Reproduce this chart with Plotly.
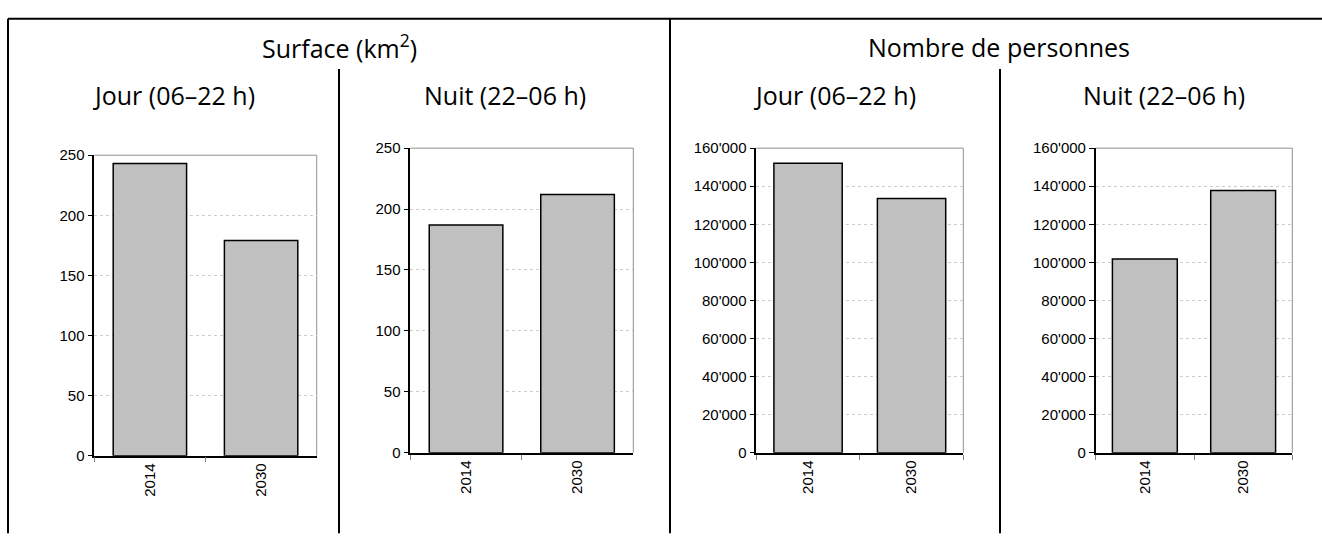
import plotly.graph_objects as go

W, H = 1322, 536

categories = ["2014", "2030"]
surface_jour = [243, 179]
surface_nuit = [187, 212]
personnes_jour = [152000, 133500]
personnes_nuit = [101800, 137800]

group_titles = ["Surface (km<sup>2</sup>)", "Nombre de personnes"]
sub_titles = ["Jour (06–22 h)", "Nuit (22–06 h)", "Jour (06–22 h)", "Nuit (22–06 h)"]

surface_ticks = [0, 50, 100, 150, 200, 250]
personnes_ticks = [0, 20000, 40000, 60000, 80000, 100000, 120000, 140000, 160000]

series = [surface_jour, surface_nuit, personnes_jour, personnes_nuit]
tick_sets = [surface_ticks, surface_ticks, personnes_ticks, personnes_ticks]

# plot-area boxes in pixels: (x0, x1, ytop, ybottom)
boxes = [
    (94.3, 316.7, 151.0, 461.3),
    (410.3, 633.3, 143.7, 458.3),
    (756.3, 963.3, 143.7, 458.3),
    (1095.7, 1292.3, 143.7, 458.3),
]

def px(x):
    return x / W

def py(y):
    return 1 - y / H

fig = go.Figure()
tick_font = dict(family="Liberation Sans, Arial, sans-serif", size=15, color="#000000")
title_font = dict(family="Open Sans, Noto Sans, sans-serif", size=25, color="#000000")

shapes = []
for i, (vals, ticks, box) in enumerate(zip(series, tick_sets, boxes)):
    n = i + 1
    xa = "x" if n == 1 else f"x{n}"
    ya = "y" if n == 1 else f"y{n}"
    fig.add_trace(go.Bar(
        x=categories, y=vals, xaxis=xa, yaxis=ya,
        marker=dict(color="#c0c0c0", line=dict(color="#000000", width=1.5)),
        showlegend=False, hoverinfo="x+y",
    ))
    x0, x1, yt, yb = box
    fig.layout[f"xaxis{n if n > 1 else ''}"] = dict(
        domain=[px(x0), px(x1)], anchor=ya,
        type="category", tickson="boundaries",
        ticks="outside", ticklen=5, tickcolor="#808080", tickwidth=1,
        showline=True, linecolor="#000000", linewidth=1.5,
        tickangle=-90, tickfont=tick_font, showgrid=False, zeroline=False,
        fixedrange=True,
    )
    fig.layout[f"yaxis{n if n > 1 else ''}"] = dict(
        domain=[py(yb), py(yt)], anchor=xa,
        range=[0, ticks[-1]], tickvals=ticks, tickformat=",d",
        ticks="outside", ticklen=5, tickcolor="#000000", tickwidth=1,
        showline=True, linecolor="#000000", linewidth=1.5,
        showgrid=True, gridcolor="#cccccc", gridwidth=1, griddash="dot",
        zeroline=False, tickfont=tick_font, fixedrange=True,
    )
    # light gray plot-area border (top/right)
    shapes.append(dict(type="line", xref="paper", yref="paper",
                       x0=px(x0), x1=px(x1), y0=py(yt), y1=py(yt),
                       line=dict(color="#909090", width=1), layer="below"))
    shapes.append(dict(type="line", xref="paper", yref="paper",
                       x0=px(x1), x1=px(x1), y0=py(yt), y1=py(yb),
                       line=dict(color="#909090", width=1), layer="below"))

# outer frame and dividers
frame = dict(color="#000000", width=2)
shapes += [
    dict(type="line", xref="paper", yref="paper", x0=px(8), x1=1.01, y0=py(10), y1=py(10), line=frame),
    dict(type="line", xref="paper", yref="paper", x0=px(8), x1=px(8), y0=py(10), y1=-0.01, line=frame),
    dict(type="line", xref="paper", yref="paper", x0=px(670), x1=px(670), y0=py(10), y1=-0.01, line=frame),
    dict(type="line", xref="paper", yref="paper", x0=px(339), x1=px(339), y0=py(62), y1=-0.01, line=frame),
    dict(type="line", xref="paper", yref="paper", x0=px(1000), x1=px(1000), y0=py(62), y1=-0.01, line=frame),
]

annotations = []
for t, cx in zip(group_titles, [339, 999]):
    annotations.append(dict(text=t, x=px(cx), y=py(39), xref="paper", yref="paper",
                            showarrow=False, xanchor="center", yanchor="middle", font=title_font))
for t, cx in zip(sub_titles, [174, 505, 835, 1164]):
    annotations.append(dict(text=t, x=px(cx), y=py(89), xref="paper", yref="paper",
                            showarrow=False, xanchor="center", yanchor="middle", font=title_font))

fig.update_layout(
    width=W, height=H, autosize=False,
    margin=dict(l=0, r=0, t=0, b=0),
    paper_bgcolor="#ffffff", plot_bgcolor="#ffffff",
    bargap=0.34, separators=".'",
    shapes=shapes, annotations=annotations,
)

fig.write_html(
    "out.html",
    config={"displayModeBar": False},
    post_script="document.body.style.margin='0';document.body.style.overflow='hidden';",
)
